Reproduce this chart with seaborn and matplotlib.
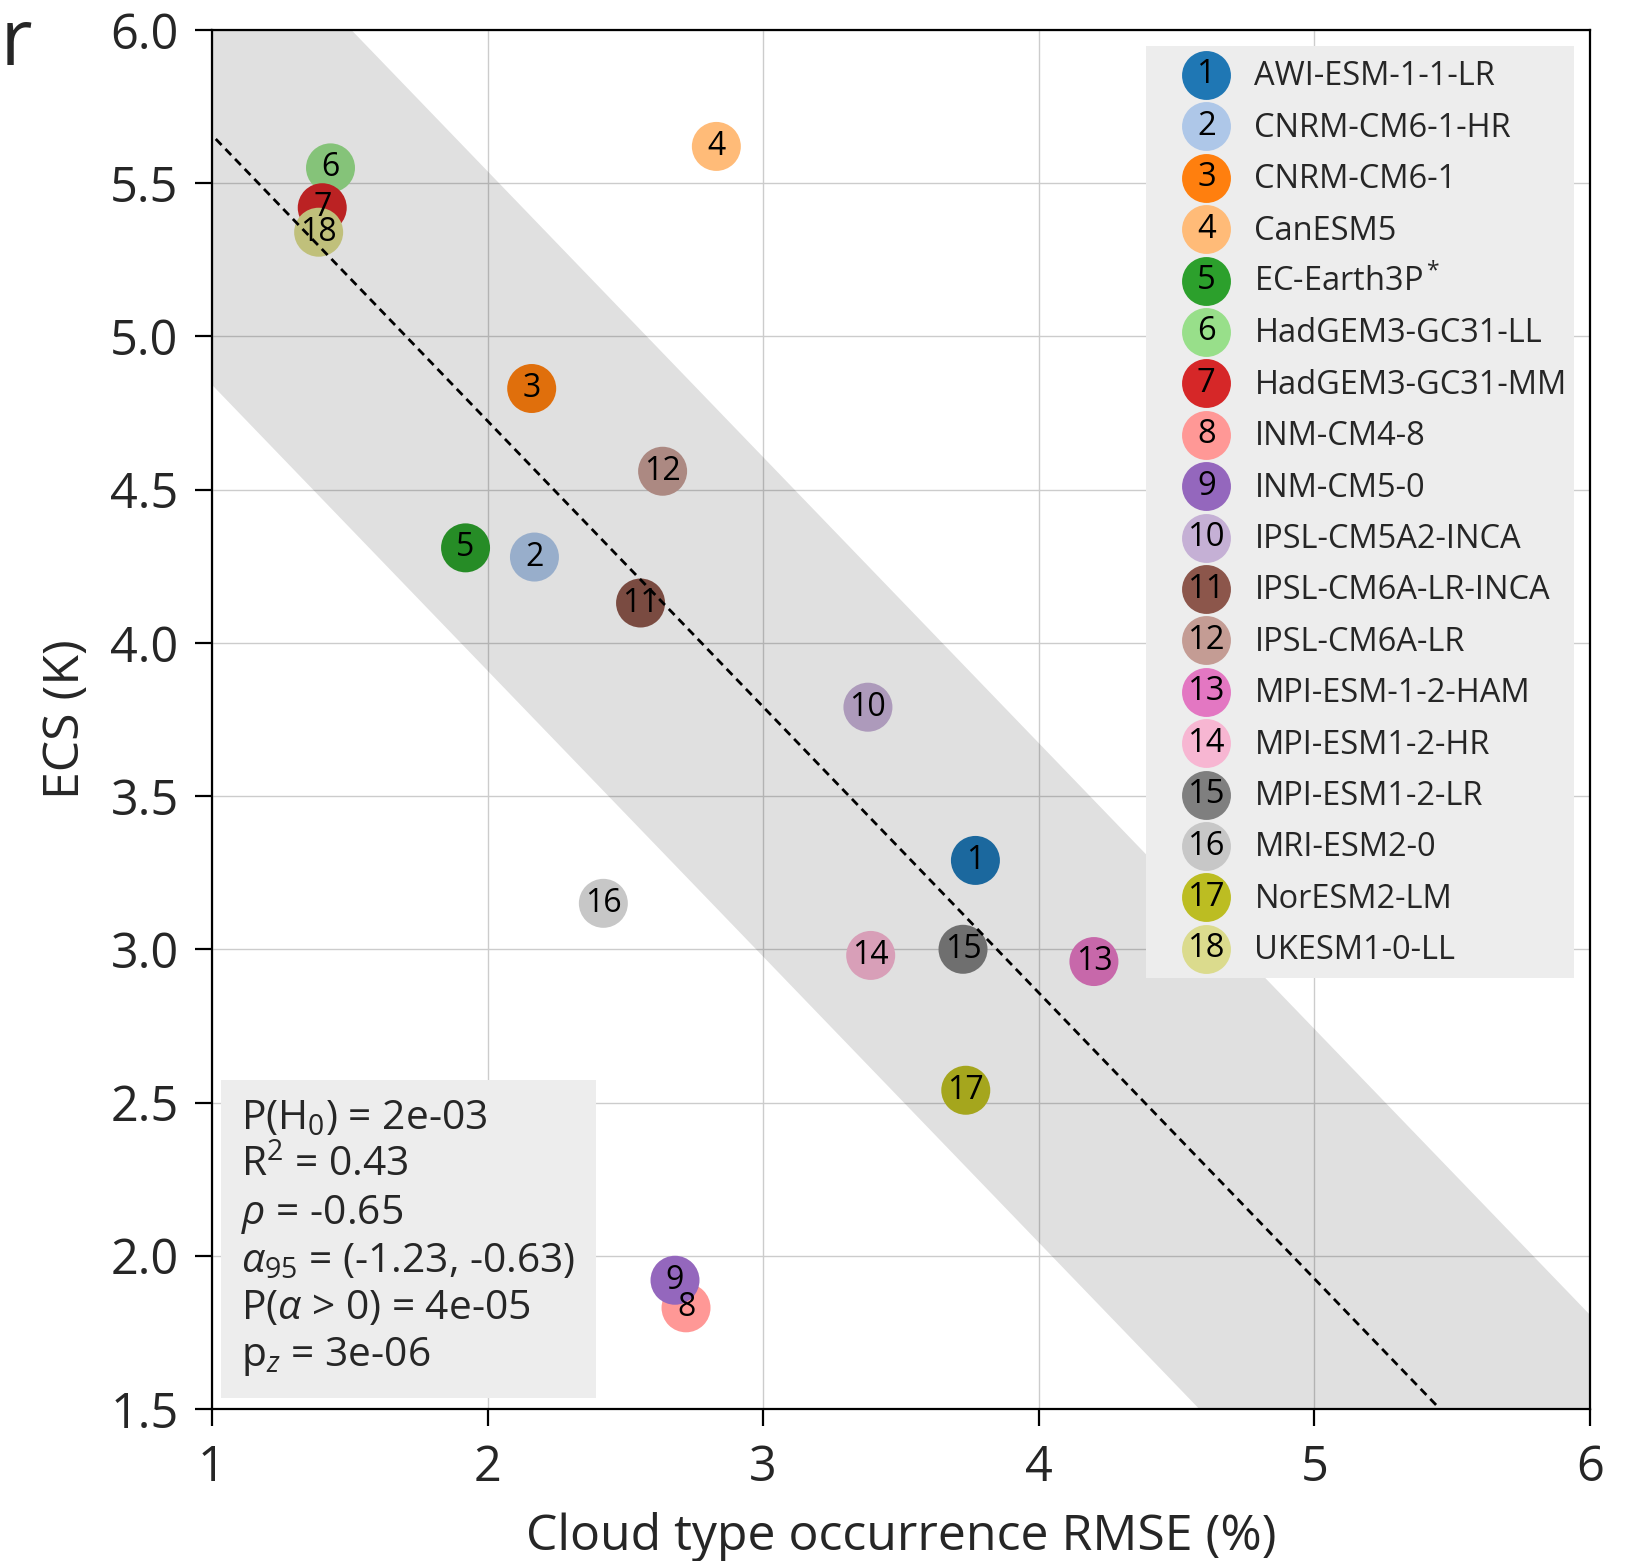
import numpy as np
import pandas as pd
import matplotlib
matplotlib.use("Agg")
import matplotlib.pyplot as plt
import seaborn as sns
from matplotlib.lines import Line2D
from matplotlib.text import Text
from matplotlib.legend_handler import HandlerBase

# ---- data -----------------------------------------------------------------
models = [
    "AWI-ESM-1-1-LR", "CNRM-CM6-1-HR", "CNRM-CM6-1", "CanESM5",
    "EC-Earth3P$^*$", "HadGEM3-GC31-LL", "HadGEM3-GC31-MM", "INM-CM4-8",
    "INM-CM5-0", "IPSL-CM5A2-INCA", "IPSL-CM6A-LR-INCA", "IPSL-CM6A-LR",
    "MPI-ESM-1-2-HAM", "MPI-ESM1-2-HR", "MPI-ESM1-2-LR", "MRI-ESM2-0",
    "NorESM2-LM", "UKESM1-0-LL",
]
rmse = [3.77, 2.17, 2.16, 2.83, 1.92, 1.43, 1.40, 2.72, 2.68, 3.38,
        2.555, 2.635, 4.20, 3.39, 3.725, 2.42, 3.735, 1.387]
ecs = [3.29, 4.28, 4.83, 5.62, 4.31, 5.55, 5.42, 1.83, 1.92, 3.79,
       4.13, 4.56, 2.96, 2.98, 3.00, 3.15, 2.54, 5.34]

# regression line and its band
fit_slope = -0.933
fit_intercept = 6.59
band_half_width = 0.815

stats_lines = [
    r"P(H$_0$) = 2e-03",
    r"R$^2$ = 0.43",
    r"$\rho$ = -0.65",
    r"$\alpha_{95}$ = (-1.23, -0.63)",
    r"P($\alpha$ > 0) = 4e-05",
    r"p$_z$ = 3e-06",
]

x_ticks = [1, 2, 3, 4, 5, 6]
y_ticks = [1.5, 2.0, 2.5, 3.0, 3.5, 4.0, 4.5, 5.0, 5.5, 6.0]

# ---- style ----------------------------------------------------------------
sns.set_style("ticks")
plt.rcParams["font.family"] = ["Open Sans", "DejaVu Sans"]
plt.rcParams["mathtext.fontset"] = "custom"
plt.rcParams["mathtext.rm"] = "Open Sans"
plt.rcParams["mathtext.it"] = "Open Sans:italic"
plt.rcParams["mathtext.bf"] = "Open Sans:bold"

numbers = list(range(1, len(models) + 1))
colors = sns.color_palette("tab20", len(models))
df = pd.DataFrame({"model": models, "num": numbers, "rmse": rmse, "ecs": ecs})

fig = plt.figure(figsize=(8.185, 7.805), dpi=200)
ax = fig.add_axes([0.1295, 0.0974, 0.8418, 0.8834])

# ---- grid -------------------------------------------------------------------
ax.set_axisbelow(True)
ax.grid(True, color="#cccccc", linewidth=0.5)

# ---- points ---------------------------------------------------------------
sns.scatterplot(data=df, x="rmse", y="ecs", hue="model", palette=colors,
                s=311, linewidth=0, legend=False, ax=ax, zorder=2)
for n, xv, yv in zip(numbers, rmse, ecs):
    ax.text(xv, yv, str(n), ha="center", va="center", fontsize=11.5,
            color="black", zorder=3)

# ---- regression line and band ---------------------------------------------
xf = np.array([0.0, 7.0])
yf = fit_intercept + fit_slope * xf
ax.fill_between(xf, yf - band_half_width, yf + band_half_width,
                color="black", alpha=0.12, linewidth=0, zorder=3.5)
ax.plot(xf, yf, color="black", linewidth=1.0, linestyle=(0, (3, 2)), zorder=4)

# ---- axes -----------------------------------------------------------------
ax.set_xlim(1, 6)
ax.set_ylim(1.5, 6.0)
ax.set_xticks(x_ticks)
ax.set_xticklabels([str(t) for t in x_ticks])
ax.set_yticks(y_ticks)
ax.set_yticklabels([f"{t:.1f}" for t in y_ticks])
ax.tick_params(axis="both", labelsize=17.5, length=6, width=0.8,
               direction="out", color="black")
ax.tick_params(axis="x", pad=6.4)
ax.tick_params(axis="y", pad=6)
for sp in ax.spines.values():
    sp.set_visible(True)
    sp.set_linewidth(0.8)
    sp.set_color("black")
ax.set_xlabel("Cloud type occurrence RMSE (%)", fontsize=18, labelpad=7)
ax.set_ylabel("ECS (K)", fontsize=18, labelpad=7)

# ---- statistics box ------------------------------------------------------
ax.text(0.021, 0.0224, "\n".join(stats_lines), transform=ax.transAxes,
        ha="left", va="bottom", fontsize=14.7, linespacing=1.2, zorder=6,
        bbox=dict(boxstyle="square,pad=0.5", facecolor="#ededed",
                  edgecolor="none"))


# ---- legend with numbered dots ------------------------------------------
class NumberedEntry:
    def __init__(self, num, color):
        self.num = num
        self.color = color


class HandlerNumberedDot(HandlerBase):
    def create_artists(self, legend, orig_handle, xdescent, ydescent,
                       width, height, fontsize, trans):
        cx = 0.589 * width - xdescent
        cy = 0.5 * height - ydescent
        dot = Line2D([cx], [cy], marker="o", markersize=17.6, linestyle="",
                     markerfacecolor=orig_handle.color, markeredgewidth=0,
                     transform=trans)
        txt = Text(cx, cy, str(orig_handle.num), ha="center", va="center",
                   fontsize=11.8, color="black", transform=trans)
        return [dot, txt]


handles = [NumberedEntry(n, c) for n, c in zip(numbers, colors)]
leg = ax.legend(handles, models, loc="upper left", mode="expand",
                bbox_to_anchor=(0.6778, 0.0, 0.3106, 0.9884),
                fontsize=11.75,
                handler_map={NumberedEntry: HandlerNumberedDot()},
                handlelength=2.9, handleheight=1.9275, handletextpad=0.28,
                labelspacing=0.077, borderpad=0.14, borderaxespad=0.0,
                frameon=True, fancybox=False, framealpha=1.0)
leg.get_frame().set_facecolor("#ededed")
leg.get_frame().set_edgecolor("none")
leg.set_zorder(7)

# panel heading at the top left
fig.text(33 / 1637, 1 - 65 / 1561, "er", ha="right", va="baseline",
         fontsize=28)

fig.savefig("out.png", dpi=200)
